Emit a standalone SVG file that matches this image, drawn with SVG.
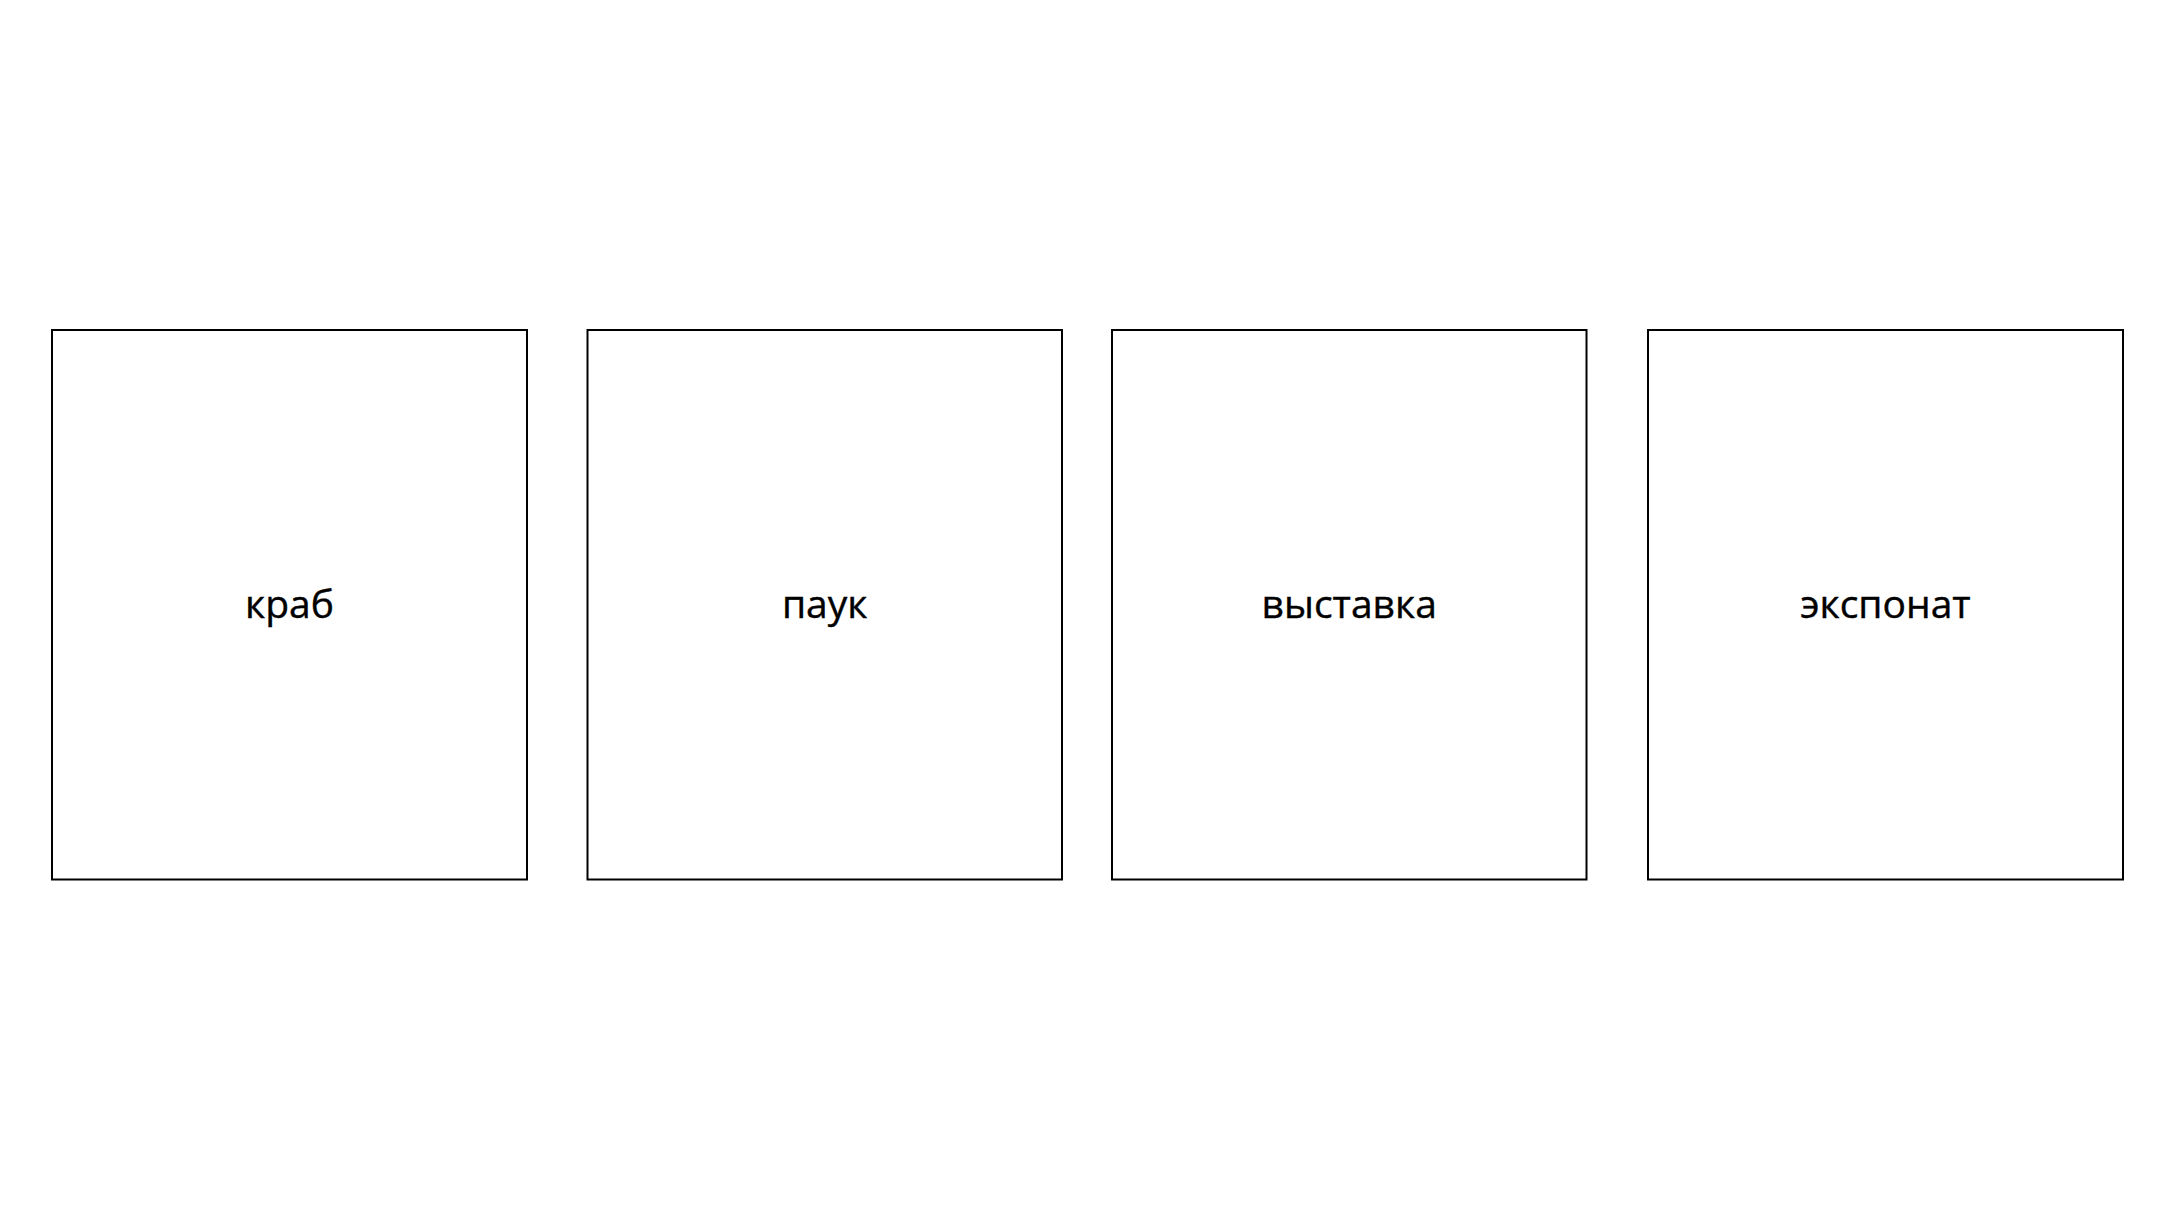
<svg xmlns="http://www.w3.org/2000/svg" width="2176" height="1218" viewBox="0 0 2176 1218">
<style>
.box{fill:#fff;stroke:#000;stroke-width:2}
.lbl{font-family:"Open Sans","Noto Sans",sans-serif;font-size:39px;fill:#000;text-anchor:middle;stroke:#000;stroke-width:0.4}
</style>
<rect width="2176" height="1218" fill="#fff"/>
<g id="connectors"></g>
<g id="node-krab"><rect class="box" x="52" y="330" width="475" height="549.5"/><text class="lbl" x="289.5" y="618">краб</text></g>
<g id="node-pauk"><rect class="box" x="587.5" y="330" width="474.5" height="549.5"/><text class="lbl" x="824.7" y="618">паук</text></g>
<g id="node-vystavka"><rect class="box" x="1112" y="330" width="474.5" height="549.5"/><text class="lbl" x="1349.2" y="618">выставка</text></g>
<g id="node-eksponat"><rect class="box" x="1648" y="330" width="475" height="549.5"/><text class="lbl" x="1885.5" y="618">экспонат</text></g>
</svg>
